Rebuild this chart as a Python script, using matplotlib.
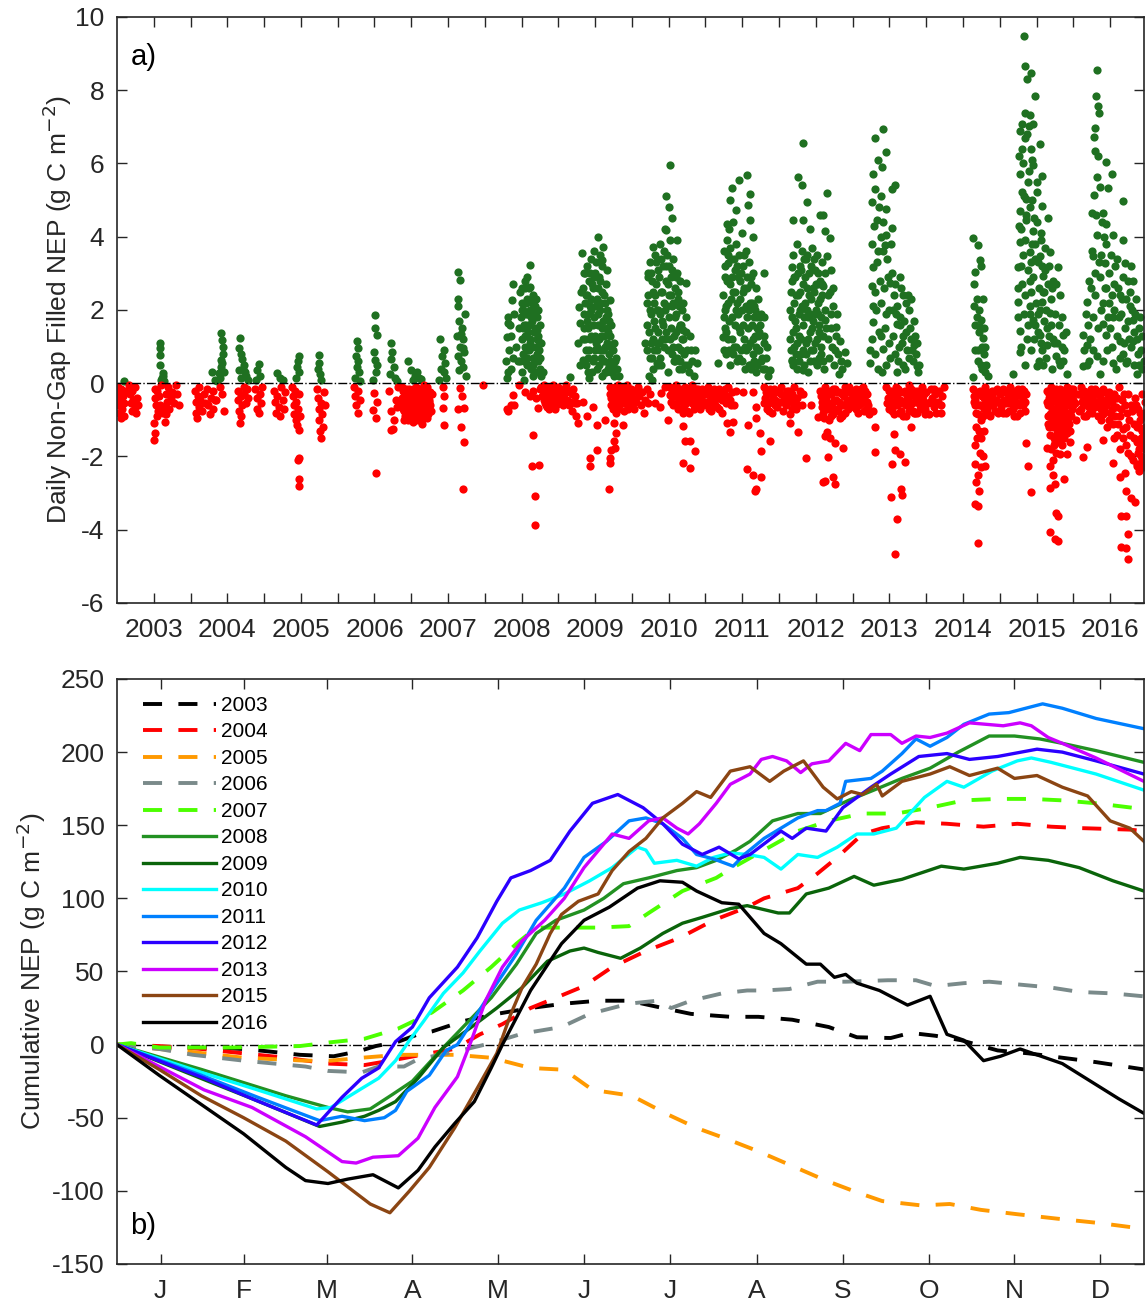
import numpy as np
import matplotlib.pyplot as plt

plt.rcParams['font.family'] = ['Liberation Sans', 'DejaVu Sans']
plt.rcParams['axes.unicode_minus'] = False

# ---- panel a: daily non-gap filled NEP, (fraction of year, g C m-2) ----
nep_2003 = [(.01,-.1),(.01,-.4),(.02,-.6),(.03,-.25),(.03,-.8),(.04,-.5),(.05,-.95),(.06,-.15),(.07,-.7),(.08,-.35),
            (.09,-.9),(.1,-.55),(.11,-.2),(.09,.05),(.17,-.05),(.18,-.3),(.19,-.55),(.2,-.75),(.21,-.2),(.22,-.45),
            (.24,-.65),(.25,-.1),(.26,-.8),(.27,-.4),(.28,-.6),
            (.58,1.09),(.59,.95),(.59,.77),(.59,.5),(.62,.27),(.63,.2),(.6,.1),(.64,.05),(.61,.15),
            (.5,-1.55),(.51,-1.36),(.5,-1.09),(.52,-.15),(.52,-.4),(.53,-.6),(.55,-.2),(.56,-.75),(.57,-.35),(.58,-.6),
            (.6,-.05),(.62,-.8),(.64,-.65),(.65,-1.05),(.66,-.3),(.68,-.5),(.7,-.1),(.71,-.7),(.73,-.4),(.75,-.25),
            (.78,-.55),(.8,-.05),(.82,-.3),(.84,-.6),(.54,-.9),(.67,-.85)]
nep_2004 = [(.06,-.2),(.07,-.5),(.08,-.8),(.09,-.95),(.1,-.35),(.11,-.65),(.12,-.1),(.13,-.45),(.15,-.75),(.18,-.3),
            (.2,-.55),(.22,-.15),(.24,-.6),(.26,-.85),(.28,-.4),(.3,-.2),(.31,-.7),(.33,-.45),
            (.42,1.36),(.43,1.18),(.44,1.0),(.41,.64),(.42,.45),(.38,.27),(.29,.32),(.33,.1),(.4,.15),(.44,.8),
            (.43,.55),(.45,.3),(.36,.05),(.35,-.45),(.45,-.77),(.4,-.1),(.43,-.3),
            (.64,-.2),(.65,-.45),(.66,-.75),(.67,-1.09),(.68,-.9),(.69,-.35),(.7,-.6),(.72,-.1),(.73,-.3),(.75,-.55),
            (.77,-.15),(.78,-.4),(.67,1.23),(.66,.95),(.68,.8),(.7,.65),(.72,.5),(.66,.35),(.74,.3),(.76,.2),
            (.69,.15),(.78,.1),(.71,.4),(.93,.53),(.91,.35),(.95,.2),(.89,.1),
            (.88,-.15),(.9,-.4),(.91,-.7),(.93,-.82),(.95,-.3),(.96,-.55),(.97,-.1)]
nep_2005 = [(.18,.27),(.22,.15),(.26,.08),
            (.13,-.2),(.15,-.5),(.16,-.8),(.18,-.35),(.2,-.65),(.22,-.9),(.23,-.1),(.25,-.45),(.27,-.7),(.29,-.25),
            (.47,.73),(.46,.6),(.45,.45),(.47,.3),(.44,.15),
            (.38,-.1),(.39,-.35),(.4,-.6),(.41,-.85),(.42,-.2),(.43,-1.0),(.44,-.5),(.45,-1.15),(.46,-.7),(.47,-1.27),
            (.48,-.3),(.47,-2.05),(.46,-2.1),(.47,-2.62),(.47,-2.8),(.49,-.9),
            (.74,.77),(.75,.55),(.73,.4),(.76,.25),(.77,.1),
            (.72,-.15),(.73,-.4),(.74,-.7),(.75,-1.0),(.76,-1.3),(.77,-1.5),(.78,-.55),(.79,-.85),(.8,-1.2),(.81,-.25),(.83,-.6)]
nep_2006 = [(.26,1.14),(.27,.95),(.25,.75),(.28,.6),(.26,.45),(.29,.3),(.24,.15),(.3,.05),
            (.22,-.1),(.23,-.35),(.25,-.6),(.27,-.82),(.28,-.2),(.3,-.45),
            (.51,1.86),(.51,1.5),(.54,1.32),(.49,.86),(.51,.64),(.52,.32),(.48,.1),(.53,.5),
            (.49,-.28),(.54,-.5),(.48,-.73),(.52,-.95),(.52,-2.45),
            (.73,1.09),(.74,.85),(.72,.65),(.76,.45),(.71,.25),(.78,.15),(.8,.05),
            (.72,-1.27),(.75,-1.25),(.77,-1.0),(.73,-.77),(.79,-.45),(.7,-.2),(.8,-.65),(.82,-.1),
            (.96,.61),(.99,.35),
            (.87,-.1),(.88,-.4),(.89,-.7),(.9,-.25),(.91,-.55),(.92,-.9),(.93,-.15),(.94,-.45),(.95,-.75),(.96,-1.0),
            (.97,-.3),(.98,-.6),(.99,-.85),
            (.875,-.55),(.885,-.2),(.895,-1.0),(.905,-.75),(.915,-.3),(.925,-.6),(.935,-.95),(.945,-.2),(.955,-.5),
            (.965,-.7),(.975,-.15),(.985,-.9),(.995,-.4)]
nep_2007 = [(.05,.2),(.1,.15),(.02,.1),(.08,.3),(.13,.12),
            (.0,-.2),(.01,-.5),(.02,-.8),(.03,-1.05),(.04,-.35),(.05,-.65),(.06,-.1),(.07,-.45),(.08,-.95),(.09,-.25),
            (.1,-.7),(.11,-.5),(.12,-.85),(.13,-.15),(.14,-.6),(.15,-1.1),(.16,-.3),(.17,-.8),(.18,-.05),(.19,-.55),
            (.2,-.4),(.21,-.95),(.22,-.2),(.23,-.7),(.24,-.45),(.26,-.6),(.28,-.3),
            (.02,-.3),(.05,-.2),(.08,-.6),(.11,-.15),(.14,-.9),(.17,-.4),(.2,-.75),(.23,-.35),(.03,-.65),(.09,-.85),
            (.12,-.35),(.16,-.65),
            (.015,-.9),(.025,-.15),(.035,-.45),(.045,-.85),(.055,-.35),(.065,-.75),(.075,-.2),(.085,-.5),(.095,-1.0),
            (.105,-.3),(.115,-.8),(.125,-.6),(.135,-1.0),(.145,-.25),(.155,-.5),(.165,-.95),(.175,-.2),(.185,-.7),
            (.195,-.3),(.205,-.55),(.215,-.1),(.225,-.85),(.235,-.5),(.25,-.25),(.27,-.75),
            (.39,1.2),(.45,.9),(.42,.75),(.46,.55),(.4,.4),(.44,.3),(.47,.15),(.38,.1),
            (.43,-.1),(.45,-.36),(.43,-.68),(.45,-1.14),
            (.64,3.05),(.66,2.82),(.64,2.3),(.64,2.1),(.73,1.88),(.65,1.7),(.69,1.5),(.62,1.3),(.7,1.2),(.66,1.0),
            (.72,.85),(.63,.75),(.68,.6),(.7,.45),(.65,.35),(.74,.2),(.67,1.35),(.71,.95),
            (.66,-.14),(.69,-.36),(.64,-.71),(.72,-.68),(.67,-1.2),(.72,-1.6),(.71,-2.9),(.98,-.05)]
nep_2008 = [(.61,3.23),(.38,2.7),(.58,2.9),(.37,2.27),(.3,1.27),(.32,1.64),(.5,2.0),(.62,2.64),(.66,2.36),(.68,1.91),
            (.71,1.45),(.72,1.18),(.68,.64),(.79,.32),(.3,.14),
            (.48,2.5),(.49,1.8),(.5,1.2),(.51,2.2),(.52,.8),(.53,1.6),(.54,2.6),(.55,1.0),(.56,1.9),(.57,.5),
            (.58,2.3),(.59,1.4),(.6,.9),(.61,2.0),(.62,1.2),(.63,.4),(.64,1.7),(.65,2.4),(.66,.7),(.67,1.4),
            (.68,2.1),(.69,1.0),(.7,.3),(.71,1.8),(.72,.6),(.73,1.3),(.74,.9),(.75,.4),(.76,1.1),(.77,.2),
            (.5,.3),(.55,2.8),(.6,1.6),(.65,.2),(.58,.7),(.53,.1),(.47,1.5),(.45,.6),(.42,1.0),(.4,1.9),
            (.36,.4),(.33,.9),(.29,.6),(.31,1.8),(.35,1.3),
            (.485,.6),(.505,2.6),(.515,1.5),(.525,2.0),(.535,.6),(.545,1.3),(.555,2.2),(.565,1.6),(.575,.9),(.585,1.9),
            (.595,2.6),(.605,.5),(.615,1.1),(.625,1.8),(.635,2.2),(.645,1.0),(.655,.5),(.665,1.9),(.675,.3),(.685,1.5),
            (.695,2.3),(.705,.8),(.715,1.2),(.725,2.0),(.735,.3),(.745,1.6),(.755,.7),(.32,.3),(.34,1.6),(.38,.7),
            (.32,-.77),(.39,-.32),(.4,-.59),(.46,-.05),(.61,-.36),(.66,-1.41),(.64,-2.27),(.74,-2.23),(.68,-3.09),
            (.68,-3.86),(.73,-.68),(.35,-.6),(.3,-.7),(.55,-.25),(.66,-.2),(.7,-.4),(.75,-.15),
            (.8,-.05),(.81,-.3),(.82,-.55),(.83,-.15),(.84,-.4),(.85,-.65),(.86,-.2),(.87,-.45),(.88,-.1),(.89,-.35),
            (.9,-.6),(.91,-.25),(.92,-.5),(.93,-.05),(.94,-.3),(.95,-.7),(.96,-.15),(.97,-.45),(.98,-.25),(.99,-.55),
            (.805,-.45),(.815,-.15),(.825,-.35),(.835,-.6),(.845,-.2),(.855,-.5),(.865,-.3),(.875,-.7),(.885,-.25),
            (.895,-.15),(.905,-.4),(.915,-.6),(.925,-.2),(.935,-.45),(.945,-.15),(.955,-.4),(.965,-.6),(.975,-.2),
            (.985,-.4),(.995,-.3),(.77,-.1),(.78,-.35)]
nep_2009 = [(.0,-.1),(.02,-.4),(.04,-.2),(.06,-.6),(.08,-.3),(.1,-.05),(.12,-.45),(.14,-.2),(.16,-.5),(.18,-.75),
            (.2,-.15),(.22,-.35),(.24,-.9),(.26,-.55),
            (.05,-.45),(.11,-.25),(.15,-.6),(.19,-.3),(.23,-.55),(.03,-.25),(.07,-.15),
            (.27,-1.09),(.39,-.89),(.52,-1.14),(.63,-1.0),(.53,-1.82),(.43,-2.05),(.43,-2.27),(.69,-2.89),(.7,-2.05),
            (.72,-1.82),(.75,-1.09),(.79,-1.36),(.75,-1.59),(.77,-1.77),(.7,-2.18),(.88,-1.14),(.33,-.5),(.47,-.65),
            (.7,-.1),(.72,-.4),(.74,-.7),(.75,-.2),(.77,-.5),(.78,-.8),(.8,-.3),(.81,-.05),(.83,-.6),(.84,-.35),
            (.86,-.15),(.87,-.55),(.89,-.75),(.9,-.25),(.92,-.45),(.93,-.05),(.95,-.65),(.96,-.3),(.98,-.5),(.99,-.15),
            (.705,-.3),(.715,-.6),(.735,-.2),(.755,-.45),(.765,-.1),(.785,-.5),(.795,-.2),(.815,-.7),(.825,-.3),
            (.845,-.55),(.855,-.15),(.875,-.35),(.885,-.1),(.905,-.55),(.915,-.2),(.935,-.4),(.945,-.7),(.965,-.15),
            (.975,-.35),(.985,-.6),
            (.54,3.98),(.61,3.73),(.32,3.55),(.59,3.36),(.66,3.09),(.36,3.0),(.7,2.27),(.28,2.09),(.3,1.64),(.27,1.09),
            (.34,.64),(.16,.18),(.41,.14),(.52,2.2),
            (.34,2.6),(.35,1.9),(.36,1.2),(.37,2.4),(.38,.5),(.39,3.2),(.4,1.5),(.41,2.8),(.42,.9),(.43,2.1),
            (.44,3.4),(.45,1.3),(.46,.3),(.47,2.6),(.48,1.8),(.49,.7),(.5,3.0),(.51,1.1),(.52,2.3),(.53,.4),
            (.54,1.6),(.55,2.9),(.56,.9),(.57,2.0),(.58,1.3),(.59,.2),(.6,2.5),(.61,1.7),(.62,.6),(.63,2.2),
            (.64,1.0),(.65,2.7),(.66,1.5),(.67,.4),(.68,1.9),(.69,.8),(.7,1.3),(.71,.3),(.72,1.6),(.73,.9),
            (.74,.5),(.75,1.1),(.76,.2),(.78,.7),(.8,.4),(.82,.2),(.45,2.3),(.5,.9),(.55,.5),(.6,3.2),
            (.65,.3),(.4,.3),(.48,3.6),(.57,3.5),
            (.345,1.5),(.355,3.0),(.365,2.2),(.375,.9),(.385,1.7),(.395,2.4),(.405,.7),(.415,1.9),(.425,3.0),(.435,1.2),
            (.445,2.0),(.455,2.7),(.465,1.6),(.475,.6),(.485,2.9),(.495,1.3),(.505,2.1),(.515,3.3),(.525,1.0),(.535,2.6),
            (.545,1.9),(.555,1.2),(.565,2.8),(.575,.7),(.585,2.2),(.595,1.5),(.605,.9),(.615,2.4),(.625,1.3),(.635,.3),
            (.645,1.8),(.655,1.1),(.665,2.0),(.675,1.4),(.685,.5),(.695,1.7),(.705,.6),(.715,1.0),(.725,.4),(.745,.9),
            (.765,.6),(.33,1.2),(.31,2.5),(.29,.5)]
nep_2010 = [(.01,-.4),(.03,-.7),(.04,-.2),(.06,-.5),(.08,-.1),(.1,-.35),(.12,-.6),(.14,-.25),(.16,-.8),(.18,-.45),
            (.2,-.15),(.22,-.55),(.24,-.3),
            (.52,5.97),(.46,5.12),(.51,4.8),(.54,4.5),(.47,4.18),(.29,3.73),(.61,3.91),(.22,3.0),(.74,2.73),(.2,2.18),
            (.18,1.09),(.34,.55),(.7,1.45),(.88,.55),
            (.2,1.6),(.22,2.4),(.24,.7),(.25,3.3),(.26,1.9),(.27,2.8),(.28,1.2),(.29,.4),(.3,2.2),(.31,3.5),
            (.32,1.5),(.33,2.7),(.34,.9),(.35,3.1),(.36,2.0),(.37,1.1),(.38,3.8),(.39,2.5),(.4,.5),(.41,1.7),
            (.42,3.2),(.43,2.2),(.44,1.0),(.45,4.2),(.46,2.8),(.47,1.4),(.48,3.5),(.49,.3),(.5,2.4),(.51,1.8),
            (.52,3.9),(.53,2.9),(.54,.8),(.55,2.1),(.56,3.4),(.57,1.3),(.58,2.6),(.59,.6),(.6,1.9),(.61,3.0),
            (.62,1.0),(.63,2.3),(.64,.4),(.65,1.6),(.66,2.8),(.67,.9),(.68,2.0),(.7,1.2),(.72,.5),(.73,1.8),
            (.75,.9),(.77,.3),(.79,1.3),(.81,.6),(.84,.2),(.86,.9),(.23,.2),(.27,.1),(.35,.5),
            (.205,.9),(.215,2.9),(.235,1.4),(.245,2.0),(.255,1.1),(.265,3.0),(.275,.7),(.285,2.5),(.295,1.7),(.305,.9),
            (.315,2.4),(.325,3.3),(.335,1.1),(.345,2.0),(.355,1.4),(.365,2.9),(.375,.7),(.385,1.9),(.395,3.4),(.405,1.2),
            (.415,2.5),(.425,1.6),(.435,3.6),(.445,2.0),(.455,1.2),(.465,3.2),(.475,2.1),(.485,.9),(.495,2.7),(.505,3.2),
            (.515,1.2),(.525,2.4),(.535,1.5),(.545,3.1),(.555,1.0),(.565,2.2),(.575,.6),(.585,1.8),(.595,2.9),(.605,1.4),
            (.615,.7),(.625,2.5),(.635,1.5),(.645,2.1),(.655,.6),(.665,1.6),(.675,1.2),(.685,.4),(.695,2.2),(.71,.8),
            (.74,1.4),(.76,.5),(.8,.9),
            (.4,-.27),(.52,-.32),(.65,-.45),(.7,-.82),(.7,-1.18),(.72,-1.59),(.79,-1.59),(.86,-1.86),(.7,-2.18),
            (.79,-2.32),(.49,-1.0),(.31,-.55),(.38,-.65),(.45,-.1),(.55,-.2),
            (.52,-.1),(.54,-.35),(.56,-.6),(.58,-.2),(.6,-.05),(.62,-.5),(.64,-.3),(.66,-.15),(.68,-.7),(.7,-.4),
            (.72,-.1),(.74,-.55),(.76,-.25),(.78,-.8),(.8,-.35),(.82,-.05),(.84,-.6),(.86,-.3),(.88,-.45),(.9,-.15),
            (.92,-.7),(.94,-.35),(.96,-.2),(.98,-.5),
            (.53,-.5),(.57,-.35),(.61,-.25),(.63,-.7),(.67,-.45),(.69,-.2),(.71,-.6),(.73,-.3),(.75,-.75),(.77,-.45),
            (.79,-.15),(.81,-.55),(.83,-.3),(.85,-.7),(.87,-.15),(.89,-.6),(.91,-.35),(.93,-.5),(.95,-.15),(.97,-.6),(.99,-.3)]
nep_2011 = [(.0,-.3),(.02,-.6),(.04,-.1),(.06,-.45),(.08,-.75),(.1,-.2),(.12,-.5),(.14,-.35),(.16,-.65),(.18,-.15),
            (.2,-.4),(.22,-.8),(.25,-.3),(.28,-.55),(.3,-.1),(.33,-.45),(.36,-.25),(.39,-.6),(.41,-.2),
            (.0,-.55),(.03,-.2),(.05,-.7),(.07,-.3),(.09,-.5),(.11,-.15),(.13,-.6),(.15,-.25),(.17,-.4),(.19,-.7),
            (.21,-.2),(.23,-.45),(.27,-.15),(.31,-.35),(.35,-.6),
            (.29,-1.09),(.38,-1.05),(.33,-1.32),(.51,-.23),(.65,-.23),(.69,-.64),(.69,-.95),(.58,-1.14),(.74,-1.36),
            (.76,-1.86),(.56,-2.35),(.65,-2.5),(.76,-2.55),(.69,-2.9),(.67,-2.95),(.88,-1.59),
            (.79,-.1),(.81,-.4),(.83,-.7),(.85,-.2),(.87,-.55),(.89,-.3),(.91,-.8),(.93,-.15),(.95,-.45),(.97,-.65),(.99,-.25),
            (.8,-.55),(.82,-.25),(.84,-.5),(.86,-.75),(.88,-.15),(.9,-.45),(.92,-.3),(.94,-.6),(.96,-.2),(.98,-.5),
            (.56,5.68),(.46,5.55),(.36,5.32),(.6,5.18),(.33,5.0),(.42,4.73),(.58,4.86),(.61,4.45),(.29,4.36),(.65,4.0),
            (.31,3.27),(.79,3.0),(.27,2.0),(.24,1.27),(.17,.55),(.74,1.82),(.79,1.09),(.88,.36),
            (.24,2.4),(.25,3.6),(.26,1.5),(.27,2.9),(.28,.8),(.29,3.9),(.3,2.2),(.31,1.2),(.32,4.2),(.33,2.7),
            (.34,.5),(.35,3.4),(.36,1.8),(.37,4.4),(.38,2.5),(.39,1.0),(.4,3.1),(.41,2.0),(.42,3.8),(.43,.6),
            (.44,2.9),(.45,1.5),(.46,3.5),(.47,2.3),(.48,.9),(.49,4.1),(.5,2.0),(.51,3.2),(.52,1.2),(.53,2.6),
            (.54,.4),(.55,3.6),(.56,1.8),(.57,2.9),(.58,1.0),(.59,3.3),(.6,2.2),(.61,.5),(.62,2.7),(.63,1.6),
            (.64,3.0),(.65,.8),(.66,2.1),(.67,1.3),(.68,2.6),(.69,.3),(.7,1.8),(.71,.9),(.72,2.3),(.73,1.4),
            (.75,.6),(.76,1.9),(.78,.4),(.8,1.3),(.82,.7),(.85,.2),
            (.245,1.8),(.255,.9),(.265,3.2),(.275,2.1),(.285,1.4),(.295,2.8),(.305,3.5),(.315,.9),(.325,1.7),(.335,3.7),
            (.345,2.3),(.355,1.2),(.365,2.9),(.375,.8),(.385,3.4),(.395,1.6),(.405,2.5),(.415,1.0),(.425,2.2),(.435,3.2),
            (.445,1.9),(.455,.7),(.465,2.8),(.475,1.4),(.485,3.0),(.495,.6),(.505,2.5),(.515,1.6),(.525,3.5),(.535,1.0),
            (.545,2.1),(.555,.9),(.565,2.6),(.575,1.5),(.585,.5),(.595,2.0),(.605,1.1),(.615,2.9),(.625,.4),(.635,2.2),
            (.645,1.2),(.655,1.8),(.665,.6),(.675,2.0),(.685,1.0),(.695,1.5),(.705,.5),(.715,1.3),(.725,.9),(.74,1.6),
            (.77,.7),(.79,1.8),(.81,.4),(.83,1.0)]
nep_2012 = [(.01,-.5),(.03,-.1),(.05,-.75),(.07,-.35),(.09,-.6),(.11,-.2),(.13,-.45),(.15,-.85),(.17,-.3),(.19,-.55),
            (.21,-.1),(.23,-.7),(.25,-.4),(.28,-.2),(.31,-.6),(.33,-.3),
            (.02,-.3),(.06,-.5),(.1,-.4),(.14,-.2),(.18,-.7),(.22,-.4),(.26,-.6),(.3,-.3),
            (.15,-1.09),(.26,-1.32),(.44,-.59),(.53,-.91),(.62,-2.68),(.65,-1.32),(.37,-2.05),
            (.62,-1.44),(.69,-1.49),(.76,-1.64),(.87,-1.78),(.67,-2.02),(.6,-2.7),(.74,-2.56),(.76,-2.75),
            (.56,-.2),(.58,-.5),(.6,-.8),(.62,-.1),(.64,-.4),(.66,-.7),(.68,-1.0),(.7,-.3),(.72,-.55),(.74,-.85),
            (.76,-.15),(.78,-.45),(.8,-.75),(.82,-.25),(.84,-.6),(.86,-.9),(.88,-.35),(.9,-.1),(.92,-.5),(.94,-.7),
            (.96,-.2),(.98,-.45),
            (.57,-.35),(.59,-.65),(.61,-.95),(.63,-.25),(.65,-.55),(.67,-.2),(.69,-.65),(.71,-.9),(.73,-.15),(.75,-.45),
            (.77,-.7),(.79,-.25),(.81,-.5),(.83,-.95),(.85,-.3),(.87,-.6),(.89,-.8),(.91,-.25),(.93,-.45),(.95,-.1),
            (.97,-.6),(.99,-.3),
            (.33,6.55),(.26,5.64),(.31,5.4),(.38,4.95),(.33,4.45),(.42,4.2),(.19,4.45),(.56,4.6),(.65,5.2),(.17,3.18),
            (.53,2.7),(.17,.64),(.33,.36),(.6,4.6),(.62,4.15),(.69,3.96),(.65,3.47),(.71,3.08),(.6,2.65),(.69,2.5),
            (.74,2.11),(.62,1.72),(.78,1.53),(.83,1.14),(.9,.85),(.92,.55),(.81,.26),
            (.15,1.2),(.16,2.5),(.17,1.8),(.18,.6),(.19,3.5),(.2,2.2),(.21,1.0),(.22,2.9),(.23,1.5),(.24,3.8),
            (.25,.4),(.26,2.4),(.27,1.3),(.28,3.2),(.29,2.0),(.3,.8),(.31,3.6),(.32,1.6),(.33,2.7),(.34,.5),
            (.35,2.2),(.36,3.4),(.37,1.1),(.38,2.6),(.39,1.8),(.4,.3),(.41,3.0),(.42,1.4),(.43,2.3),(.44,.9),
            (.45,3.7),(.46,1.7),(.47,2.5),(.48,.6),(.49,3.1),(.5,2.0),(.51,1.2),(.52,3.5),(.53,2.2),(.54,.7),
            (.55,1.6),(.56,2.8),(.57,1.0),(.58,3.3),(.59,2.4),(.6,1.3),(.61,.4),(.63,2.0),(.66,1.2),(.68,.7),
            (.7,1.9),(.72,1.0),(.75,.5),(.77,1.3),(.8,.8),(.86,.4),
            (.155,2.0),(.165,.9),(.175,2.8),(.185,1.4),(.195,.5),(.205,2.9),(.215,1.7),(.225,.8),(.235,2.4),(.245,1.1),
            (.255,3.0),(.265,1.9),(.275,.6),(.285,2.5),(.295,1.2),(.305,3.1),(.315,2.1),(.325,.9),(.335,3.4),(.345,1.8),
            (.355,2.9),(.365,.8),(.375,2.0),(.385,3.5),(.395,1.2),(.405,2.4),(.415,1.9),(.425,.6),(.435,3.2),(.445,1.5),
            (.455,2.6),(.465,.9),(.475,3.4),(.485,1.9),(.495,1.1),(.505,2.7),(.515,.5),(.525,1.9),(.535,3.0),(.545,1.4),
            (.555,2.3),(.565,.8),(.575,1.8),(.585,2.7),(.595,.6),(.62,3.0),(.64,1.5),(.67,2.4),(.71,1.5),(.73,2.6),
            (.76,.9),(.79,1.9),(.84,.6)]
nep_2013 = [(.0,-.3),(.02,-.65),(.04,-.15),(.06,-.5),(.08,-.8),(.1,-.25),(.12,-.55),(.14,-.1),(.16,-.4),(.18,-.7),
            (.2,-.3),(.22,-.85),
            (.41,6.93),(.31,6.7),(.46,6.3),(.34,6.1),(.4,5.9),(.28,5.7),(.57,5.4),(.31,5.3),(.38,5.1),(.53,5.3),
            (.26,4.95),(.46,4.75),(.33,4.45),(.53,4.25),(.46,4.06),(.44,3.77),(.28,3.18),(.26,2.65),(.51,2.75),(.64,2.9),
            (.75,2.4),(.28,2.1),(.55,2.0),(.64,1.8),(.28,1.67),(.6,1.63),(.78,1.5),(.69,1.3),(.42,.94),(.83,1.04),
            (.24,.9),(.46,.5),(.87,.46),(.6,.31),(.24,.55),
            (.3,2.5),(.33,3.3),(.36,1.4),(.39,2.2),(.42,3.6),(.45,1.9),(.48,2.9),(.5,1.1),(.52,3.8),(.56,2.4),
            (.58,.8),(.61,2.1),(.63,1.0),(.66,2.6),(.68,.5),(.7,1.7),(.72,2.2),(.74,.9),(.77,2.0),(.8,1.2),
            (.82,.6),(.85,1.3),(.89,.3),(.35,.4),(.38,4.0),(.27,3.8),
            (.29,4.3),(.32,2.0),(.34,3.6),(.36,4.8),(.37,2.8),(.39,1.3),(.41,4.4),(.43,2.6),(.44,1.5),(.47,3.4),
            (.49,2.0),(.51,.7),(.54,3.0),(.55,1.3),(.57,2.7),(.59,1.9),(.62,.6),(.65,1.6),(.67,1.1),(.69,2.4),
            (.71,.4),(.73,1.4),(.76,.7),(.79,2.3),(.81,.9),(.84,1.7),(.86,.8),(.88,1.1),(.9,.5),(.27,1.2),(.3,.8),(.4,.3),
            (.28,-.76),(.31,-1.2),(.3,-1.88),(.56,-1.39),(.58,-1.83),(.53,-2.2),(.65,-1.92),(.71,-2.16),(.52,-3.1),
            (.66,-2.9),(.67,-3.05),(.61,-3.7),(.58,-4.67),(.79,-1.2),(.84,-.8),
            (.46,-.1),(.48,-.4),(.5,-.7),(.52,-.2),(.54,-.55),(.56,-.85),(.58,-.3),(.6,-.6),(.62,-.15),(.64,-.45),
            (.66,-.75),(.68,-.25),(.7,-.5),(.72,-.9),(.74,-.35),(.76,-.05),(.78,-.6),(.8,-.3),(.82,-.75),(.84,-.2),
            (.86,-.5),(.88,-.8),(.9,-.35),(.92,-.6),(.94,-.1),(.96,-.45),(.98,-.7),
            (.47,-.55),(.49,-.2),(.51,-.45),(.53,-.75),(.55,-.3),(.57,-.6),(.59,-.1),(.61,-.4),(.63,-.8),(.65,-.25),
            (.67,-.55),(.69,-.9),(.71,-.2),(.73,-.6),(.75,-.4),(.77,-.75),(.79,-.15),(.81,-.55),(.83,-.35),(.85,-.8),
            (.87,-.2),(.89,-.5),(.91,-.7),(.93,-.25),(.95,-.55),(.97,-.3),(.99,-.85),(.01,-.45),(.03,-.2),(.05,-.7),
            (.07,-.35),(.09,-.6),(.11,-.15),(.13,-.5),(.15,-.75),(.17,-.2),(.19,-.5),(.21,-.6)]
nep_2014 = [(.0,-.25),(.02,-.55),(.04,-.85),(.06,-.15),(.08,-.4),(.1,-.65),(.12,-.3),(.14,-.8),(.16,-.5),(.18,-.2),
            (.2,-.6),(.22,-.35),(.24,-.1),(.2,-.8),(.1,-.15),(.05,-.5),(.15,-.55),
            (.64,3.96),(.71,3.77),(.73,3.36),(.66,3.04),(.74,3.2),(.65,2.1),(.77,2.3),(.69,1.8),(.75,1.72),(.73,1.53),
            (.77,1.24),(.67,.9),(.78,.8),(.82,.5),(.64,.18),(.7,.6),(.8,1.0),
            (.655,2.7),(.665,1.6),(.685,2.3),(.705,.9),(.715,1.4),(.725,2.0),(.745,.5),(.755,1.0),(.765,.4),(.785,1.5),
            (.795,.3),(.84,.2),
            (.64,-.15),(.66,-.45),(.68,-.8),(.7,-.25),(.72,-.6),(.74,-1.0),(.76,-.35),(.78,-.7),(.8,-.1),(.82,-.5),
            (.84,-.85),(.86,-.3),(.88,-.6),(.9,-.2),(.92,-.45),(.94,-.75),(.96,-.15),(.98,-.5),
            (.65,-.35),(.67,-.6),(.69,-.3),(.71,-.85),(.73,-.2),(.75,-.6),(.77,-.9),(.79,-.4),(.81,-.2),(.83,-.7),
            (.85,-.45),(.87,-.9),(.89,-.35),(.91,-.6),(.93,-.2),(.95,-.45),(.97,-.8),(.99,-.25),
            (.66,-1.68),(.74,-1.49),(.77,-1.98),(.67,-2.2),(.8,-2.25),(.7,-2.5),(.66,-3.3),(.7,-3.35),(.72,-2.95),
            (.71,-4.36),(.65,-.5),(.68,-1.2),(.72,-1.3),(.69,-1.5),(.73,-1.9),(.75,-2.3),(.68,-2.7),(.78,-1.3)]
nep_2015 = [(.0,-.3),(.02,-.65),(.04,-.15),(.06,-.45),(.08,-.8),(.1,-.25),(.12,-.55),(.14,-.1),(.16,-.4),(.18,-.7),
            (.2,-.2),(.22,-.5),(.24,-.9),(.26,-.3),(.28,-.6),(.3,-.15),(.32,-.45),(.34,-.75),(.36,-.3),
            (.01,-.5),(.03,-.2),(.05,-.8),(.07,-.25),(.09,-.55),(.11,-.4),(.13,-.75),(.15,-.25),(.17,-.55),(.19,-.9),
            (.21,-.35),(.23,-.6),(.25,-.15),(.27,-.8),(.29,-.35),(.31,-.6),(.33,-.2),(.35,-.5),
            (.36,-1.64),(.39,-2.25),(.43,-2.97),
            (.33,9.49),(.34,8.65),(.43,8.47),(.37,8.32),(.48,7.85),(.34,7.39),(.41,7.32),(.3,7.08),(.4,7.03),(.45,7.08),
            (.27,6.88),(.34,6.69),(.42,6.39),(.55,6.54),(.26,6.2),(.45,5.96),(.28,5.71),(.57,5.66),(.3,5.23),(.36,5.03),
            (.5,5.23),(.57,4.84),(.27,4.69),(.36,4.45),(.45,4.16),(.66,4.5),(.27,3.86),(.41,3.57),(.55,3.47),(.68,3.57),
            (.79,3.18),(.25,3.18),(.41,2.79),(.59,2.94),(.73,2.79),(.25,2.21),(.41,2.11),(.57,2.21),(.82,2.4),(.25,1.82),
            (.45,1.72),(.68,1.92),(.27,1.43),(.55,1.33),(.86,1.33),(.27,.85),(.64,1.04),(.5,.46),(.77,.75),(.91,.26),
            (.18,.26),
            (.32,6.0),(.38,5.5),(.44,5.0),(.5,4.4),(.35,3.9),(.42,3.3),(.48,3.8),(.53,2.6),(.6,2.5),(.62,3.1),
            (.3,2.7),(.38,1.6),(.47,1.2),(.52,1.9),(.58,.9),(.64,1.5),(.7,2.3),(.74,1.1),(.8,.6),(.84,1.8),
            (.88,.9),(.35,.5),(.43,2.5),(.56,3.9),(.29,4.2),
            (.255,2.6),(.265,4.3),(.285,3.2),(.295,1.0),(.305,6.4),(.315,3.5),(.325,1.9),(.335,5.1),(.345,2.4),(.355,4.6),
            (.365,1.2),(.375,6.8),(.385,3.1),(.395,5.8),(.405,1.9),(.415,4.8),(.425,.9),(.435,3.8),(.445,6.1),(.455,2.9),
            (.465,4.5),(.475,1.6),(.485,3.4),(.495,2.2),(.505,5.5),(.515,1.4),(.525,3.3),(.535,.6),(.545,2.0),(.555,4.1),
            (.565,1.1),(.575,3.2),(.585,2.5),(.595,.5),(.605,1.7),(.615,3.7),(.625,2.0),(.635,.7),(.655,2.7),(.665,1.3),
            (.675,3.2),(.695,1.6),(.705,.4),(.715,2.6),(.725,1.2),(.745,1.9),(.765,2.7),(.785,1.1),(.805,1.6),(.825,.5),
            (.845,1.0),(.865,.6),(.895,1.4),
            (.64,-.2),(.65,-.6),(.66,-1.1),(.67,-.4),(.68,-.85),(.69,-1.4),(.7,-.1),(.71,-.7),(.72,-1.2),(.73,-.35),
            (.74,-.95),(.75,-1.6),(.76,-.5),(.77,-.15),(.78,-1.0),(.79,-.65),(.8,-1.3),(.81,-.3),(.82,-.8),(.83,-1.5),
            (.84,-.45),(.85,-1.1),(.86,-.2),(.87,-.75),(.88,-1.25),(.89,-.5),(.9,-.9),(.91,-.1),(.92,-.6),(.93,-1.05),
            (.94,-.35),(.95,-.8),(.96,-1.3),(.97,-.25),(.98,-.7),(.99,-.45),
            (.645,-.5),(.655,-.9),(.665,-.3),(.675,-1.2),(.685,-.6),(.695,-.25),(.705,-1.0),(.715,-.45),(.725,-.8),
            (.735,-1.5),(.745,-.2),(.755,-1.1),(.765,-.7),(.775,-1.35),(.785,-.35),(.795,-.9),(.805,-.6),(.815,-1.2),
            (.825,-.15),(.835,-.95),(.845,-.7),(.855,-1.45),(.865,-.4),(.875,-1.0),(.885,-.3),(.895,-1.2),(.905,-.6),
            (.915,-1.35),(.925,-.3),(.935,-.8),(.945,-1.1),(.955,-.5),(.965,-.15),(.975,-.9),(.985,-.3),(.995,-.6),
            (.7,-1.8),(.72,-2.1),(.74,-1.7),(.76,-1.9),(.8,-1.6),(.84,-1.7),(.87,-1.5),(.95,-1.6),
            (.68,-1.1),(.64,-1.78),(.68,-2.27),(.73,-2.51),(.68,-2.85),(.75,-2.75),(.91,-1.93),(.82,-1.93),(.79,-3.63),
            (.77,-3.53),(.68,-4.07),(.75,-4.26),(.79,-4.31),(.88,-2.61)]
nep_2016 = [(.0,-.15),(.02,-.55),(.04,-1.0),(.06,-.3),(.08,-.75),(.1,-.1),(.12,-.5),(.14,-.9),(.16,-.25),(.18,-.6),
            (.2,-.4),(.22,-.8),(.24,-.15),(.26,-.5),(.28,-.3),(.3,-.65),
            (.18,-1.73),(.13,-2.02),(.41,-1.54),
            (.32,8.56),(.31,7.83),(.34,7.56),(.35,7.37),(.29,6.98),(.28,6.73),(.29,6.35),(.34,6.2),(.44,6.05),(.32,5.62),
            (.36,5.37),(.47,5.32),(.28,5.13),(.26,4.64),(.41,4.64),(.45,4.35),(.53,5.71),(.67,4.98),(.32,4.06),(.54,4.06),
            (.67,3.91),(.27,3.47),(.43,3.28),(.36,2.89),(.7,3.28),(.81,2.79),(.18,2.21),(.45,2.6),(.63,2.4),(.77,2.11),
            (.27,1.82),(.41,1.63),(.54,1.82),(.81,1.72),(.13,1.33),(.18,1.04),(.45,1.33),(.63,1.14),(.81,1.14),(.32,.75),
            (.54,.55),(.13,.46),(.36,.26),(.72,.55),(.86,.26),
            (.2,1.6),(.24,2.6),(.38,3.5),(.4,2.2),(.48,3.0),(.5,1.5),(.56,2.7),(.6,3.4),(.62,1.8),(.66,2.3),
            (.7,1.5),(.74,2.8),(.76,1.2),(.79,3.2),(.84,1.9),(.88,.8),(.9,1.5),(.93,.4),(.22,.6),(.46,.9),
            (.58,.4),(.52,2.4),(.3,3.0),(.42,4.0),(.68,.8),
            (.15,.9),(.17,1.9),(.19,.5),(.21,2.8),(.23,1.2),(.25,3.6),(.27,.9),(.29,2.4),(.31,4.6),(.33,1.5),
            (.35,3.3),(.37,2.0),(.39,4.4),(.41,.6),(.43,2.6),(.45,3.8),(.47,1.8),(.49,2.2),(.51,3.5),(.53,1.0),
            (.55,2.0),(.57,3.2),(.59,1.3),(.61,2.6),(.63,.7),(.65,1.9),(.67,2.9),(.69,1.1),(.71,2.3),(.73,.6),
            (.75,1.7),(.77,2.5),(.78,1.0),(.8,2.0),(.82,.5),(.83,1.4),(.85,2.3),(.87,1.2),(.89,.5),(.91,1.8),
            (.92,.9),(.94,1.3),(.96,.6),
            (.32,-.2),(.34,-.6),(.36,-.35),(.38,-1.0),(.4,-.15),(.42,-.7),(.44,-.45),(.46,-1.2),(.48,-.25),(.5,-.8),
            (.52,-.5),(.54,-1.1),(.56,-.3),(.58,-.65),(.6,-1.4),(.62,-.1),(.64,-.9),(.66,-.45),(.68,-1.25),(.7,-.6),
            (.72,-1.7),(.74,-.3),(.76,-1.0),(.78,-2.0),(.8,-.75),(.82,-1.5),(.84,-.4),(.86,-2.2),(.87,-1.2),(.88,-.7),
            (.89,-1.8),(.9,-2.4),(.91,-1.0),(.92,-1.5),(.93,-.3),(.94,-2.1),(.95,-.9),(.96,-1.6),(.97,-1.2),(.98,-.5),
            (.09,-.3),(.11,-.7),(.13,-.45),(.15,-.2),(.17,-.9),(.19,-.35),(.21,-.65),(.23,-.2),(.25,-.8),(.27,-.45),
            (.29,-.15),(.31,-.5),(.33,-.9),(.35,-.3),(.37,-.7),(.39,-.5),(.41,-.85),(.43,-.25),(.45,-.6),(.47,-.4),
            (.49,-1.0),(.51,-.35),(.53,-.7),(.55,-1.5),(.57,-.9),(.59,-.4),(.61,-1.1),(.63,-1.8),(.65,-.7),(.67,-1.5),
            (.69,-.3),(.71,-1.2),(.73,-.8),(.75,-1.9),(.77,-1.4),(.79,-.6),(.81,-2.1),(.83,-1.1),(.85,-.6),(.86,-1.6),
            (.88,-1.9),(.9,-1.2),(.92,-2.0),(.94,-1.3),(.95,-2.3),(.96,-.8),(.97,-1.8),(.98,-1.4),(.99,-2.1),
            (.54,-2.17),(.63,-2.56),(.7,-2.46),(.72,-2.95),(.79,-3.14),(.84,-3.24),(.65,-3.63),(.71,-3.63),(.75,-4.12),
            (.72,-4.5),(.65,-4.46),(.75,-4.8),(.91,-1.78),(.93,-1.29),(.86,-2.27),(.91,-.81)]

daily_years = [2003, 2004, 2005, 2006, 2007, 2008, 2009, 2010, 2011, 2012, 2013, 2014, 2015, 2016]
daily_data = [nep_2003, nep_2004, nep_2005, nep_2006, nep_2007, nep_2008, nep_2009,
              nep_2010, nep_2011, nep_2012, nep_2013, nep_2014, nep_2015, nep_2016]

# ---- panel b: cumulative NEP, (day of year, g C m-2) ----
cum_2003 = [(0,0),(15,-2),(30,-2),(45,-3),(53,-4.5),(65,-7),(77,-8),(86,-4.5),(92,-1),(100,2),(107,7),(112,9),
            (123,16),(135,21),(147,25),(159,28),(171,30),(182,30),(194,25),(204,21),(218,19),(228,19),(240,17),
            (253,12),(263,5),(275,4.5),(282,8),(291,6),(300,3),(313,-4),(324,-6),(336,-9),(348,-12),(365,-17)]
cum_2004 = [(0,0),(15,-1),(30,-3),(45,-6),(60,-9),(75,-13),(88,-14),(100,-10),(111,-6),(120,-3),(129,7),(137,14),
            (147,25),(156,32),(166,40),(176,53),(188,64),(200,73),(212,85),(224,94),(230,100),(242,107),(249,117),
            (256,128),(265,144),(272,148),(284,152),(295,151),(308,149),(320,151),(332,149),(343,148),(360,147),(365,146)]
cum_2005 = [(0,0),(15,-3),(24,-4.5),(45,-9),(67,-11),(76,-11),(87,-9),(100,-7),(120,-7),(133,-9),(147,-16),(157,-17),
            (161,-20),(169,-31),(183,-35),(196,-48),(206,-57),(216,-64),(228,-73),(240,-83),(252,-93),(263,-101),
            (272,-107),(286,-110),(296,-109),(307,-113),(320,-116),(334,-119),(349,-122),(365,-126)]
cum_2006 = [(0,0),(15,-3),(27,-7),(45,-11),(67,-15),(75,-18),(87,-19),(93,-15),(102,-15),(107,-10),(120,-5),(133,1),
            (144,7.5),(158,12),(168,21),(182,28),(192,30),(197,25),(204,30),(215,35),(224,37),(230,37),(239,38),
            (249,43),(259,43),(274,44),(284,44),(291,40),(301,42),(310,43),(321,41),(332,39),(342,36),(354,35),(365,33)]
cum_2007 = [(0,0),(5,1),(15,-2),(41,-2),(65,-1),(76,1.6),(88,4),(100,11),(112,22),(123,37),(133,53),(142,69),
            (149,80),(159,80),(171,80),(182,81),(189,90),(201,105),(213,114),(218,120),(230,133),(242,146),(253,153),
            (265,158),(277,158),(289,162),(301,167),(313,168),(325,168),(336,167),(348,165),(365,161)]
cum_2008 = [(0,0),(30,-17),(45,-26),(60,-35),(75,-43),(82,-46),(90,-44),(98,-34),(105,-25),(115,-4),(123,12),(133,32),
            (142,55),(149,76),(156,85),(166,92),(173,100),(180,110),(189,114),(199,119),(206,121),(213,126),(220,133),
            (225,139),(233,153),(242,158),(250,158),(260,167),(269,174),(279,182),(289,189),(299,200),(310,211),
            (319,211),(328,209),(336,206),(348,201),(365,193)]
cum_2009 = [(0,0),(31,-24),(48,-37),(72,-56),(80,-53),(88,-49),(93,-45),(99,-39),(107,-23),(116,-2),(126,12),(135,25),
            (144,39),(153,57),(161,64),(166,66),(171,63),(179,59),(186,66),(194,76),(201,83),(208,87),(218,93),(224,95),
            (235,90),(239,90),(245,103),(253,107),(262,115),(269,109),(279,113),(293,122),(301,120),(313,124),(321,128),
            (331,126),(342,121),(354,112),(365,105)]
cum_2010 = [(0,0),(30,-19),(50,-31),(71,-44),(76,-43),(87,-30),(93,-23),(99,-11),(104,3),(109,16),(116,35),(123,49),
            (129,64),(137,83),(143,92),(151,97),(159,103),(168,112),(176,121),(185,135),(188,133),(191,124),(199,126),
            (206,122),(212,128),(218,131),(224,130),(230,128),(236,120),(242,130),(249,128),(256,135),(263,144),
            (269,144),(277,148),(287,169),(295,180),(301,176),(311,187),(320,194),(325,196),(332,193),(348,185),(365,174)]
cum_2011 = [(0,0),(30,-21),(50,-36),(72,-52),(80,-49),(88,-52),(95,-50),(99,-45),(103,-32),(111,-21),(117,-4),(121,0),
            (128,21),(134,39),(142,62),(149,85),(159,107),(166,128),(174,139),(182,153),(188,155),(194,151),(201,141),
            (206,130),(212,127),(219,122),(223,130),(230,141),(236,148),(242,155),(249,160),(252,160),(257,165),
            (259,180),(268,182),(272,187),(279,199),(284,209),(289,204),(295,210),(301,219),(310,226),(317,227),
            (329,233),(336,230),(348,223),(365,216)]
cum_2012 = [(0,0),(31,-23),(48,-37),(71,-55),(80,-36),(87,-23),(93,-16),(99,2),(105,12),(111,32),(121,53),(128,73),
            (135,98),(140,114),(147,119),(154,126),(161,146),(169,165),(178,171),(187,162),(194,151),(201,137),
            (208,130),(214,135),(221,127),(225,130),(236,146),(240,141),(245,148),(252,146),(258,162),(268,176),
            (275,185),(285,197),(295,199),(303,195),(313,197),(327,202),(336,200),(348,194),(365,185)]
cum_2013 = [(0,0),(31,-31),(48,-43),(67,-63),(80,-80),(85,-81),(91,-77),(100,-76),(107,-64),(113,-43),(121,-22),
            (126,3),(131,30),(137,53),(144,71),(152,85),(159,100),(166,121),(176,144),(182,141),(189,153),(194,155),
            (199,148),(203,144),(207,151),(213,165),(218,178),(225,185),(229,195),(233,197),(238,194),(243,186),
            (247,192),(253,194),(259,206),(264,201),(268,212),(275,212),(279,206),(284,211),(289,210),(295,213),
            (303,220),(309,219),(315,218),(321,220),(325,218),(331,210),(336,206),(348,196),(365,180)]
cum_2015 = [(0,0),(15,-17),(30,-35),(45,-50),(60,-66),(75,-87),(90,-109),(97,-115),(104,-100),(111,-84),(120,-57),
            (128,-30),(135,-6),(140,21),(144,39),(149,55),(154,76),(158,89),(164,98),(171,103),(176,119),(182,132),
            (188,141),(194,155),(201,165),(206,173),(211,169),(218,187),(225,190),(232,180),(237,187),(244,194),
            (251,176),(256,168),(261,173),(265,171),(270,178),(272,170),(279,180),(289,185),(296,190),(303,184),
            (313,189),(319,182),(327,184),(336,176),(345,170),(353,153),(360,148),(365,139)]
cum_2016 = [(0,0),(15,-21),(30,-41),(45,-61),(60,-84),(67,-93),(75,-95),(82,-92),(91,-89),(100,-98),(107,-86),
            (113,-70),(120,-54),(127,-39),(133,-16),(137,0),(147,37),(158,69),(166,85),(175,94),(185,107),(193,112),
            (201,111),(206,105),(215,97),(221,96),(230,76),(236,69),(245,55),(250,55),(255,46),(259,48),(263,42),
            (271,37),(281,27),(289,33),(295,7),(301,3),(308,-11),(314,-8),(321,-3),(336,-13),(346,-25),(356,-37),(365,-47)]

cum_labels = ['2003', '2004', '2005', '2006', '2007', '2008', '2009', '2010', '2011', '2012', '2013', '2015', '2016']
cum_data = [cum_2003, cum_2004, cum_2005, cum_2006, cum_2007, cum_2008, cum_2009,
            cum_2010, cum_2011, cum_2012, cum_2013, cum_2015, cum_2016]
cum_colors = ['#000000', '#FF0000', '#FF9900', '#7A8A8A', '#4CFF00', '#229122', '#0A640A',
              '#00FFFF', '#0080FF', '#2B00FF', '#CC00FF', '#8B4513', '#000000']

month_labels = ['J', 'F', 'M', 'A', 'M', 'J', 'J', 'A', 'S', 'O', 'N', 'D']
month_days = [31, 28, 31, 30, 31, 30, 31, 31, 30, 31, 30, 31]

text_col = '#262626'
fs = 19


def style_axes(ax):
	for sp in ax.spines.values():
		sp.set_linewidth(1.2)
		sp.set_color(text_col)
	ax.tick_params(direction='in', top=True, right=True, length=7, width=1.0,
	               labelsize=fs, colors=text_col, pad=9)
	ax.tick_params(axis='x', pad=11)


def main():
	fig = plt.figure(figsize=(11.47, 13.06), dpi=100)

	# Panel a
	ax1 = fig.add_axes([0.102, 0.5383, 0.8953, 0.4487])
	t = np.concatenate([[yr + p[0] for p in pts] for yr, pts in zip(daily_years, daily_data)])
	v = np.concatenate([[p[1] for p in pts] for pts in daily_data])
	pos = v > 0
	ax1.scatter(t[pos], v[pos], s=35, color='#1F7021', linewidths=0, zorder=2)
	ax1.scatter(t[~pos], v[~pos], s=35, color='#FF0000', linewidths=0, zorder=2)
	ax1.axhline(0, color='k', linestyle='-.', linewidth=1.0, zorder=3)
	ax1.set_xlim(2003.0, 2016.96)
	ax1.set_ylim(-6, 10)
	ax1.set_yticks(np.arange(-6, 11, 2))
	xt = np.arange(2003.5, 2016.6, 0.5)
	ax1.set_xticks(xt)
	ax1.set_xticklabels([str(int(x)) if x % 1 else '' for x in xt])
	ax1.set_ylabel('Daily Non-Gap Filled NEP (g C m$^{-2}$)', fontsize=fs, color=text_col, labelpad=1)
	style_axes(ax1)
	ax1.text(0.013, 0.932, 'a)', transform=ax1.transAxes, fontsize=fs + 2, va='center', ha='left')

	# Panel b
	ax2 = fig.add_axes([0.102, 0.0322, 0.8953, 0.4479])
	ax2.axhline(0, color='k', linestyle='-.', linewidth=1.0, zorder=1)
	for lab, pts, col in zip(cum_labels, cum_data, cum_colors):
		d = [p[0] for p in pts]
		c = [p[1] for p in pts]
		if int(lab) <= 2007:
			ax2.plot(d, c, color=col, linewidth=2.8, linestyle=(0, (4.9, 4.2)), label=lab, zorder=2)
		else:
			ax2.plot(d, c, color=col, linewidth=2.4, label=lab, zorder=2)
	ax2.set_xlim(0, 365)
	ax2.set_ylim(-150, 250)
	ax2.set_yticks(np.arange(-150, 251, 50))
	mids = np.cumsum(month_days) - np.array(month_days) / 2
	ax2.set_xticks(mids)
	ax2.set_xticklabels(month_labels)
	ax2.set_ylabel('Cumulative NEP (g C m$^{-2}$)', fontsize=fs, color=text_col, labelpad=3)
	style_axes(ax2)
	ax2.text(0.013, 0.065, 'b)', transform=ax2.transAxes, fontsize=fs + 2, va='center', ha='left')
	ax2.legend(loc='upper left', bbox_to_anchor=(0.025, 0.971), frameon=False, fontsize=15,
	           handlelength=3.5, handletextpad=0.25, labelspacing=0.36, borderpad=0, borderaxespad=0)

	fig.savefig('out.png', dpi=100)


if __name__ == '__main__':
	main()
